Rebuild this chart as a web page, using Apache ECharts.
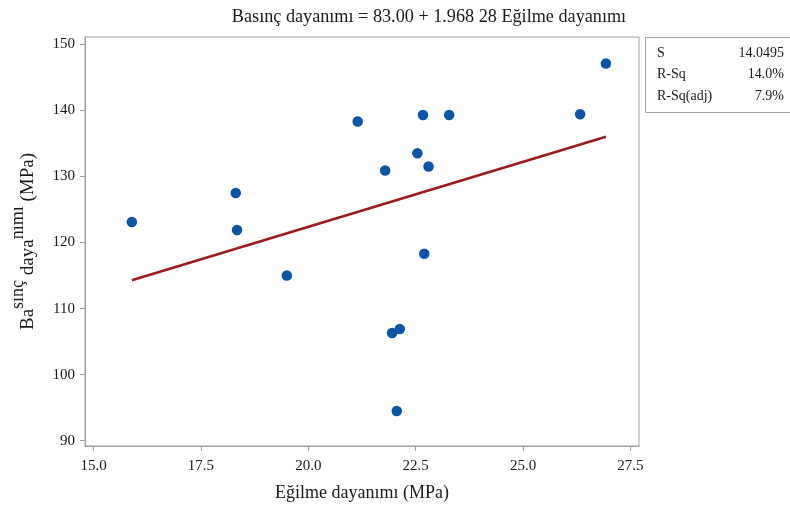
<!DOCTYPE html>
<html>
<head>
<meta charset="utf-8">
<script src="https://cdn.jsdelivr.net/npm/echarts@6/dist/echarts.min.js"></script>
<style>
  html, body { margin: 0; padding: 0; background: #ffffff; }
  #chart { width: 790px; height: 512px; }
</style>
</head>
<body>
<div id="chart"></div>
<script>
// Bending strength (x) vs. compressive strength (y), MPa
const egilme = [15.89, 18.31, 18.34, 19.50, 21.15, 21.79, 21.95, 22.06, 22.13, 22.54, 22.67, 22.70, 22.80, 23.28, 26.33, 26.93];
const basinc = [123.1, 127.5, 121.9, 115.0, 138.3, 130.9, 106.3, 94.5, 106.9, 133.5, 139.3, 118.3, 131.5, 139.3, 139.4, 147.1];

// Fitted line: Basınç = a + b * Eğilme
const intercept = 83.00;
const slope = 1.96828;
const slopeLabel = '1.968 28';

// Fit summary shown in the box on the right
const statNames = ['S', 'R-Sq', 'R-Sq(adj)'];
const statValues = ['14.0495', '14.0%', '7.9%'];

const xTicks = [15.0, 17.5, 20.0, 22.5, 25.0, 27.5];
const yTicks = [90, 100, 110, 120, 130, 140, 150];

const FONT = '"Liberation Serif", "Times New Roman", serif';
const TXT = '#1a1a1a';
const GRAY = '#a0a0a0';

const points = egilme.map((x, i) => [x, basinc[i]]);
const xMin = Math.min(...egilme), xMax = Math.max(...egilme);
const fitLine = [xMin, xMax].map(x => [x, intercept + slope * x]);

const chart = echarts.init(document.getElementById('chart'), null, { renderer: 'canvas' });

const statGraphics = [];
statNames.forEach((n, i) => {
  statGraphics.push({
    type: 'text', left: 657, top: 46 + i * 21.5,
    style: { text: n, font: '14px ' + FONT, fill: TXT }
  });
  statGraphics.push({
    type: 'text', right: 6, top: 46 + i * 21.5,
    style: { text: statValues[i], font: '14px ' + FONT, fill: TXT, textAlign: 'right' }
  });
});

chart.setOption({
  animation: false,
  backgroundColor: '#ffffff',
  title: {
    text: 'Basınç dayanımı = ' + intercept.toFixed(2) + ' + ' + slopeLabel + ' Eğilme dayanımı',
    left: 424, top: 3, textAlign: 'center',
    textStyle: { fontFamily: FONT, fontSize: 18.2, fontWeight: 'normal', color: TXT }
  },
  grid: {
    left: 85, right: 151, top: 37, bottom: 66,
    show: true, borderColor: GRAY, borderWidth: 1, backgroundColor: '#ffffff'
  },
  xAxis: {
    type: 'value', min: 14.8, max: 27.7,
    name: 'Eğilme dayanımı (MPa)', nameLocation: 'middle', nameGap: 38,
    nameTextStyle: { fontFamily: FONT, fontSize: 18, color: TXT },
    axisLine: { show: true, lineStyle: { color: GRAY } },
    axisTick: { show: true, length: 5, lineStyle: { color: GRAY }, customValues: xTicks },
    axisLabel: { fontFamily: FONT, fontSize: 15, color: TXT, margin: 13,
                 customValues: xTicks, formatter: v => v.toFixed(1) },
    splitLine: { show: false }
  },
  yAxis: {
    type: 'value', min: 89.2, max: 151.1,
    name: '{n|Ba}{s|sınç}{n| daya}{s|nımı}{n| (MPa)}',
    nameLocation: 'middle', nameGap: 38, nameRotate: 90,
    nameTextStyle: {
      fontFamily: FONT, fontSize: 19, color: TXT,
      rich: {
        n: { fontFamily: FONT, fontSize: 19, color: TXT, lineHeight: 38, verticalAlign: 'middle' },
        s: { fontFamily: FONT, fontSize: 18, color: TXT, lineHeight: 14, verticalAlign: 'top' }
      }
    },
    axisLine: { show: true, lineStyle: { color: GRAY } },
    axisTick: { show: true, length: 5, lineStyle: { color: GRAY }, customValues: yTicks },
    axisLabel: { fontFamily: FONT, fontSize: 15, color: TXT, margin: 10, customValues: yTicks },
    splitLine: { show: false }
  },
  series: [
    {
      type: 'line', data: fitLine, symbol: 'none', z: 2,
      lineStyle: { color: '#9b1a1a', width: 2.6 }
    },
    {
      type: 'scatter', data: points, symbol: 'circle', symbolSize: 10.5, z: 3,
      itemStyle: { color: '#0a55a5', opacity: 1 }
    }
  ],
  graphic: [
    { type: 'rect', left: 645, top: 37,
      shape: { width: 150, height: 75 },
      style: { fill: '#ffffff', stroke: GRAY, lineWidth: 1 } },
    ...statGraphics
  ]
});
</script>
</body>
</html>
